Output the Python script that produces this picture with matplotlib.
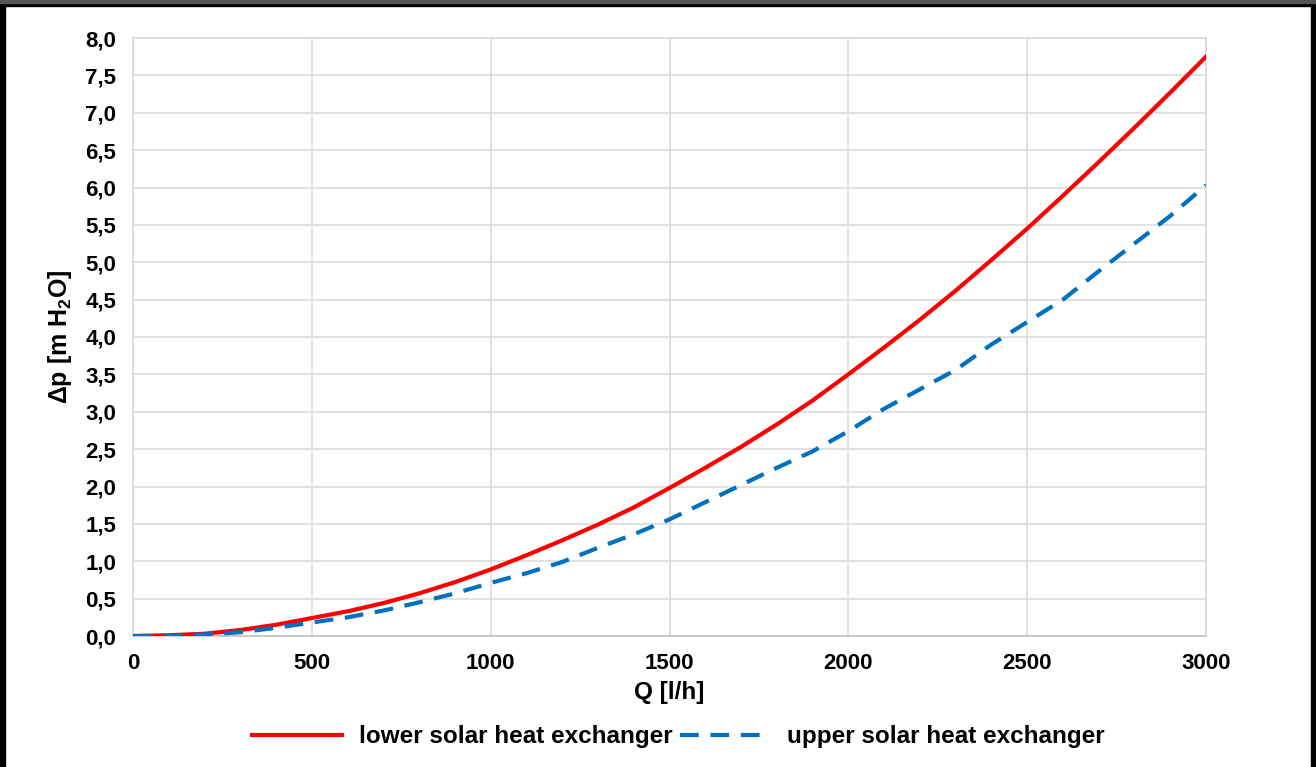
import numpy as np
import matplotlib
matplotlib.use('Agg')
from matplotlib import pyplot as plt
from matplotlib.ticker import FuncFormatter, MultipleLocator
from matplotlib.patches import Rectangle

# volume flow [l/h]
q = [0, 100, 200, 300, 400, 500, 600, 700, 800, 900, 1000,
     1100, 1200, 1300, 1400, 1500, 1600, 1700, 1800, 1900, 2000,
     2100, 2200, 2300, 2400, 2500, 2600, 2700, 2800, 2900, 3000]

# pressure drop [m H2O]
dp_lower = [0.0, 0.01, 0.03, 0.08, 0.15, 0.24, 0.33, 0.44, 0.57, 0.72, 0.89,
            1.08, 1.28, 1.49, 1.72, 1.98, 2.25, 2.53, 2.83, 3.15, 3.50,
            3.86, 4.23, 4.62, 5.03, 5.45, 5.89, 6.34, 6.80, 7.27, 7.75]
dp_upper = [0.0, 0.0, 0.02, 0.05, 0.11, 0.18, 0.25, 0.34, 0.45, 0.57, 0.71,
            0.84, 0.99, 1.18, 1.36, 1.56, 1.79, 2.02, 2.25, 2.47, 2.74,
            3.04, 3.30, 3.56, 3.90, 4.20, 4.50, 4.88, 5.25, 5.62, 6.03]

plt.rcParams['font.family'] = ['Liberation Sans', 'DejaVu Sans']
plt.rcParams['font.weight'] = 'bold'
plt.rcParams['mathtext.fontset'] = 'custom'
plt.rcParams['mathtext.bf'] = 'Liberation Sans:bold'
plt.rcParams['mathtext.rm'] = 'Liberation Sans:bold'
plt.rcParams['mathtext.default'] = 'bf'

fig = plt.figure(figsize=(13.16, 7.67), dpi=100)
ax = fig.add_axes([133/1316, 1-636/767, (1206-133)/1316, (636-38)/767])

ax.plot(q, dp_lower, color='#ff0000', lw=3, label='lower solar heat exchanger', zorder=3)
ax.plot(q, dp_upper, color='#0070c0', lw=3, linestyle=(0, (4.5, 2.8)),
        label='upper solar heat exchanger', zorder=3)

ax.set_xlim(0, 3000)
ax.set_ylim(0, 8)
ax.xaxis.set_major_locator(MultipleLocator(500))
ax.yaxis.set_major_locator(MultipleLocator(0.5))
ax.yaxis.set_major_formatter(FuncFormatter(lambda v, p: f'{v:.1f}'.replace('.', ',')))
ax.grid(True, color='#d9d9d9', lw=1.1)
ax.set_axisbelow(True)
for s in ax.spines.values():
    s.set_color('#d9d9d9')
    s.set_linewidth(1.1)
ax.spines['bottom'].set_color('#bfbfbf')
ax.tick_params(length=0, labelsize=16, colors='black', pad=12)
for lab in ax.get_xticklabels() + ax.get_yticklabels():
    lab.set_fontweight('bold')

ax.set_xlabel('Q [l/h]', fontsize=17.5, fontweight='bold', labelpad=5)
ax.set_ylabel('Δp [m H$_2$O]', fontsize=18, fontweight='bold', labelpad=8)

fig.legend(loc='center', bbox_to_anchor=(678/1316, 1-737/767), ncol=2, frameon=False,
           handlelength=3.7, handletextpad=0.7, columnspacing=0.3,
           prop={'weight': 'bold', 'size': 17.5})

# frame around the picture
fig.patches.append(Rectangle((0, 0), 5/1316, 1, transform=fig.transFigure, color='black', zorder=10))
fig.patches.append(Rectangle((1-5/1316, 0), 5/1316, 1, transform=fig.transFigure, color='black', zorder=10))
fig.patches.append(Rectangle((0, 1-6/767), 1, 6/767, transform=fig.transFigure, color='black', zorder=10))
fig.patches.append(Rectangle((0, 1-3/767), 1, 3/767, transform=fig.transFigure, color='#555555', zorder=11))

fig.savefig('out.png', dpi=100)
